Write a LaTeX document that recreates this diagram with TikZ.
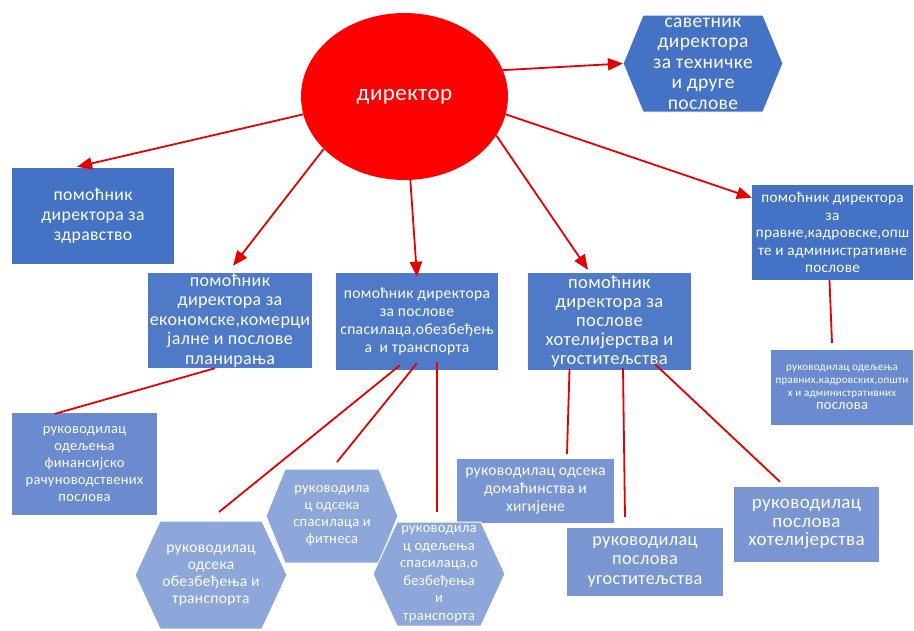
\documentclass[tikz,border=0pt]{standalone}
\usepackage{fontspec}
\setmainfont{Carlito}[LetterSpace=2]
\usetikzlibrary{shapes.geometric,arrows.meta,calc}
\definecolor{bA}{HTML}{4472C4}
\definecolor{bB}{HTML}{4F7AC7}
\definecolor{bC}{HTML}{6A8BCF}
\definecolor{bD}{HTML}{7996D3}
\definecolor{bE}{HTML}{8DA7DA}
\definecolor{lred}{HTML}{E60000}
\newcommand{\myhex}[9]{%
  \fill[#7, draw=white, line width=1pt] (#2-#4,#3) -- (#2-#4+#5,#3-#6) -- (#2+#4-#5,#3-#6) -- (#2+#4,#3) -- (#2+#4-#5,#3+#6) -- (#2-#4+#5,#3+#6) -- cycle;
  \coordinate (#1-w) at (#2-#4,#3);
  \coordinate (#1-n) at (#2,#3-#6);
  \node[txt, #9] (#1) at (#2,#3) {#8};}
\begin{document}
\begin{tikzpicture}[x=1pt,y=-1pt,
  txt/.style={inner sep=0pt, align=center, text=white},
  box/.style={rectangle, inner sep=0pt, align=center, text=white},
  conn/.style={draw=lred, line width=1.8pt},
  arr/.style={conn, -{Triangle[length=15pt,width=12pt]}}]
\useasboundingbox (0,0) rectangle (914,630);
% director
\node[ellipse, fill=red, minimum width=207pt, minimum height=167pt, inner sep=0pt, text=white,
  font=\fontsize{23}{26}\selectfont] (dir) at (404.5,96.5) {директор};
% top hexagon
\myhex{hT}{703}{63.5}{80}{20}{48.5}{bA}{саветник\\директора\\за техничке\\и друге\\послове}{font=\fontsize{19.5}{20.5}\selectfont}
% boxes
\node[box, fill=bA, minimum width=162pt, minimum height=96pt, font=\fontsize{17.7}{20}\selectfont] (zd) at (93,216)
  {помоћник\\директора за\\здравство};
\node[box, fill=bB, minimum width=164pt, minimum height=95pt, font=\fontsize{18}{19.5}\selectfont] (ec) at (230,320.5)
  {помоћник\\директора за\\економске,комерци\\јалне и послове\\планирања};
\node[box, fill=bB, minimum width=162pt, minimum height=97pt, font=\fontsize{15.6}{18}\selectfont] (sp) at (417,321.5)
  {помоћник директора\\за послове\\спасилаца,обезбеђењ\\а\ \ и транспорта};
\node[box, fill=bB, minimum width=163pt, minimum height=97pt, font=\fontsize{18.5}{19}\selectfont] (ho) at (609.5,321.5)
  {помоћник\\директора за\\послове\\хотелијерства и\\угоститељства};
\node[box, fill=bA, minimum width=161pt, minimum height=95pt, font=\fontsize{15.2}{17.5}\selectfont] (rb) at (832.5,232.5)
  {помоћник директора\\за\\правне,кадровске,опш\\те и административне\\послове};
\node[box, fill=bC, minimum width=142pt, minimum height=75pt, font=\fontsize{11}{13}\selectfont] (sb) at (842,387.5)
  {руководилац одељења\\правних,кадровских,општи\\х и административних\\{\fontsize{14.5}{15}\selectfont послова}};
\node[box, fill=bC, minimum width=145pt, minimum height=102pt, font=\fontsize{14.5}{17}\selectfont] (fin) at (84.5,464)
  {руководилац\\одељења\\финансијско\\рачуноводствених\\послова};
\node[box, fill=bD, minimum width=157pt, minimum height=64pt, font=\fontsize{15.6}{18}\selectfont] (dom) at (535.5,491)
  {руководилац одсека\\домаћинства и\\хигијене};
\node[box, fill=bD, minimum width=156pt, minimum height=68pt, font=\fontsize{18.3}{19.5}\selectfont] (ug) at (645,562)
  {руководилац\\послова\\угоститељства};
\node[box, fill=bD, minimum width=145pt, minimum height=75pt, font=\fontsize{19}{18.5}\selectfont] (hot) at (806.5,524.5)
  {руководилац\\послова\\хотелијерства};
% bottom hexagons
\myhex{hA}{211}{575}{76}{25}{54}{bE}{руководилац\\одсека\\обезбеђења и\\транспорта}{font=\fontsize{15.5}{17}\selectfont}
\myhex{hB}{332}{516}{66}{19}{47}{bE}{руководила\\ц одсека\\спасилаца и\\фитнеса}{font=\fontsize{14.5}{17}\selectfont}
\myhex{hC}{439}{574}{66}{24}{52}{bE}{руководила\\ц одељења\\спасилаца,о\\безбеђења\\и\\транспорта}{font=\fontsize{14.5}{17.5}\selectfont}
% arrows from director
\draw[arr] (dir.15) -- (hT-w);
\draw[arr] (dir.190) -- ($(zd.north)+(-16,-1)$);
\draw[arr] (dir.213) -- ($(ec.north)+(3,-7)$);
\draw[arr] (dir.274) -- ($(sp.north)+(0,4)$);
\draw[arr] (dir.337) -- ($(ho.north)+(-21.5,-3)$);
\draw[arr] (dir.350) -- ($(rb.north west)+(0,13)$);
% plain connectors
\draw[conn] ($(ec.south)+(-15,0)$) -- ($(fin.north)+(-29.5,1)$);
\draw[conn] ($(sp.south)+(-17,-5)$) -- ($(hA-n)+(8,-9)$);
\draw[conn] ($(sp.south)+(0,-7)$) -- ($(hB-n)+(5,-7)$);
\draw[conn] ($(sp.south)+(20,-8)$) -- ($(hC-n)+(-2,-10)$);
\draw[conn] ($(rb.south)+(-3,0)$) -- ($(sb.north)+(-10,-7)$);
\draw[conn] ($(ho.south)+(-40,-1)$) -- ($(dom.north)+(31.5,-5)$);
\draw[conn] ($(ho.south)+(13.5,-2)$) -- ($(ug.north)+(-20,-11)$);
\draw[conn] ($(ho.south)+(45.5,-6)$) -- ($(hot.north)+(-26.5,-5)$);
\end{tikzpicture}
\end{document}
